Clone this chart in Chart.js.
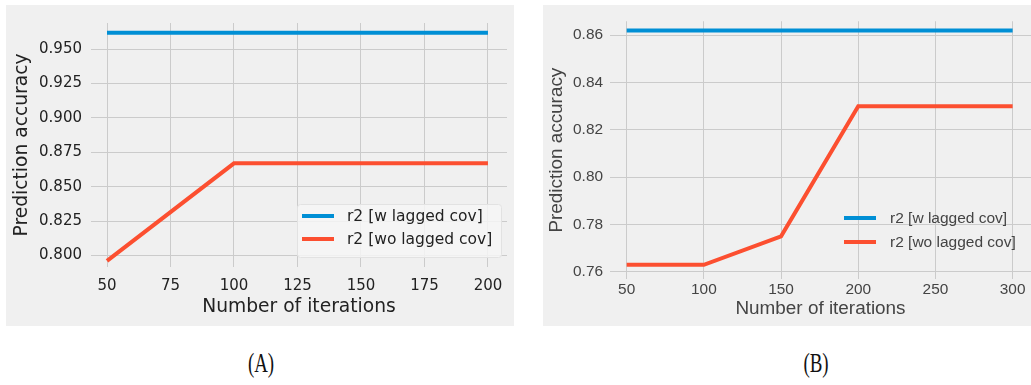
<!DOCTYPE html>
<html>
<head>
<meta charset="utf-8">
<script src="https://cdn.jsdelivr.net/npm/chart.js@4.4.1/dist/chart.umd.min.js"></script>
<style>
  body { margin: 0; background: #fff; width: 1031px; height: 385px; position: relative; overflow: hidden; }
  .panel { position: absolute; background: #f0f0f0; }
  #panelA { left: 6px; top: 5px; width: 508px; height: 321px; }
  #panelB { left: 543px; top: 5px; width: 488px; height: 321px; }
  .cap { position: absolute; top: 348px; font-family: "Liberation Serif", serif; font-size: 27px; color: #111;
         transform: scaleX(0.7); transform-origin: center; width: 60px; text-align: center; }
</style>
</head>
<body>
<div class="panel" id="panelA"><canvas id="chartA" width="508" height="321"></canvas></div>
<div class="panel" id="panelB"><canvas id="chartB" width="488" height="321"></canvas></div>
<div class="cap" style="left:231px">(A)</div>
<div class="cap" style="left:786px">(B)</div>
<script>
// panel A data
const itersA = [50, 100, 150, 200];
const withLagA = [0.962, 0.962, 0.962, 0.962];
const withoutLagA = [0.796, 0.867, 0.867, 0.867];
const xTicksA = [50, 75, 100, 125, 150, 175, 200];
const yTicksA = [0.800, 0.825, 0.850, 0.875, 0.900, 0.925, 0.950];

// panel B data
const itersB = [50, 100, 150, 200, 250, 300];
const withLagB = [0.862, 0.862, 0.862, 0.862, 0.862, 0.862];
const withoutLagB = [0.763, 0.763, 0.775, 0.830, 0.830, 0.830];
const xTicksB = [50, 100, 150, 200, 250, 300];
const yTicksB = [0.76, 0.78, 0.80, 0.82, 0.84, 0.86];

const legendLabels = ['r2 [w lagged cov]', 'r2 [wo lagged cov]'];
const BLUE = '#008fd5';
const RED = '#fc4f30';
const GRID = '#cbcbcb';

// legend drawn inside the plot, like matplotlib loc="lower right"
const insideLegend = {
    id: 'insideLegend',
    afterDraw(chart, args, opts) {
        const ctx = chart.ctx;
        ctx.save();
        if (opts.box) {
            const b = opts.box;
            ctx.fillStyle = 'rgba(246,246,246,0.85)';
            ctx.strokeStyle = '#e2e2e2';
            ctx.lineWidth = 1;
            ctx.beginPath();
            ctx.roundRect(b.x + 0.5, b.y + 0.5, b.w, b.h, 3);
            ctx.fill();
            ctx.stroke();
        }
        ctx.font = opts.font;
        ctx.textBaseline = 'middle';
        chart.data.datasets.forEach((ds, i) => {
            const y = opts.y + i * opts.gap;
            ctx.strokeStyle = ds.borderColor;
            ctx.lineWidth = 4;
            ctx.beginPath();
            ctx.moveTo(opts.x, y);
            ctx.lineTo(opts.x + opts.len, y);
            ctx.stroke();
            ctx.fillStyle = opts.color;
            ctx.fillText(ds.label, opts.textX, y + 1);
        });
        ctx.restore();
    }
};

function makeChart(id, cfg) {
    const keepTicks = (list) => (scale) => { scale.ticks = list.map(v => ({ value: v })); };
    return new Chart(document.getElementById(id), {
        type: 'line',
        data: {
            datasets: [
                { label: legendLabels[0], data: cfg.x.map((v, i) => ({ x: v, y: cfg.blue[i] })), borderColor: BLUE },
                { label: legendLabels[1], data: cfg.x.map((v, i) => ({ x: v, y: cfg.red[i] })), borderColor: RED }
            ]
        },
        options: {
            responsive: false,
            animation: false,
            elements: { point: { radius: 0 }, line: { borderWidth: 4, tension: 0, borderCapStyle: 'butt' } },
            layout: { padding: cfg.padding },
            plugins: { legend: { display: false }, tooltip: { enabled: false }, insideLegend: cfg.legend },
            scales: {
                x: {
                    type: 'linear', min: cfg.xMin, max: cfg.xMax,
                    afterBuildTicks: keepTicks(cfg.xTicks),
                    afterFit: (s) => { s.height = cfg.xHeight; },
                    grid: { color: GRID, lineWidth: 1, drawTicks: false },
                    border: { display: false },
                    ticks: { color: cfg.tickColor, font: cfg.tickFont, padding: cfg.xPad, maxRotation: 0 },
                    title: { display: true, text: 'Number of iterations', color: cfg.titleColor, font: cfg.titleFont, padding: cfg.xTitlePad }
                },
                y: {
                    min: cfg.yMin, max: cfg.yMax,
                    afterBuildTicks: keepTicks(cfg.yTicks),
                    afterFit: (s) => { s.width = cfg.yWidth; },
                    grid: { color: GRID, lineWidth: 1, drawTicks: false },
                    border: { display: false },
                    ticks: { color: cfg.tickColor, font: cfg.tickFont, padding: cfg.yPad, callback: (v) => v.toFixed(cfg.digits) },
                    title: { display: true, text: 'Prediction accuracy', color: cfg.titleColor, font: cfg.titleFont, padding: cfg.yTitlePad }
                }
            }
        },
        plugins: [insideLegend]
    });
}

makeChart('chartA', {
    x: itersA, blue: withLagA, red: withoutLagA, xTicks: xTicksA, yTicks: yTicksA,
    xMin: 43.7, xMax: 207.5, yMin: 0.7916, yMax: 0.969, digits: 3,
    padding: { top: 10, right: 7, left: 0, bottom: 0 },
    xHeight: 59, yWidth: 85, xPad: 10, yPad: 9,
    xTitlePad: { top: 0, bottom: 8 }, yTitlePad: { top: 4.5, bottom: 0 },
    tickColor: '#222', titleColor: '#222',
    tickFont: { family: 'DejaVu Sans', size: 15 },
    titleFont: { family: 'DejaVu Sans', size: 18.7 },
    legend: {
        box: { x: 291, y: 199, w: 204, h: 53 },
        x: 296, len: 32, y: 211, gap: 23, textX: 341,
        font: '15.5px "DejaVu Sans"', color: '#222'
    }
});

makeChart('chartB', {
    x: itersB, blue: withLagB, red: withoutLagB, xTicks: xTicksB, yTicks: yTicksB,
    xMin: 39.2, xMax: 311.9, yMin: 0.757, yMax: 0.8659, digits: 2,
    padding: { top: 10, right: 0, left: 0, bottom: 0 },
    xHeight: 47, yWidth: 67, xPad: 2, yPad: 7,
    xTitlePad: { top: 0, bottom: 6.3 }, yTitlePad: { top: 2.3, bottom: 0 },
    tickColor: '#444', titleColor: '#444',
    tickFont: { family: 'Liberation Sans', size: 15.4 },
    titleFont: { family: 'Liberation Sans', size: 18.9 },
    legend: {
        x: 301, len: 32, y: 213, gap: 24, textX: 347,
        font: '15.5px "Liberation Sans"', color: '#444'
    }
});
</script>
</body>
</html>
